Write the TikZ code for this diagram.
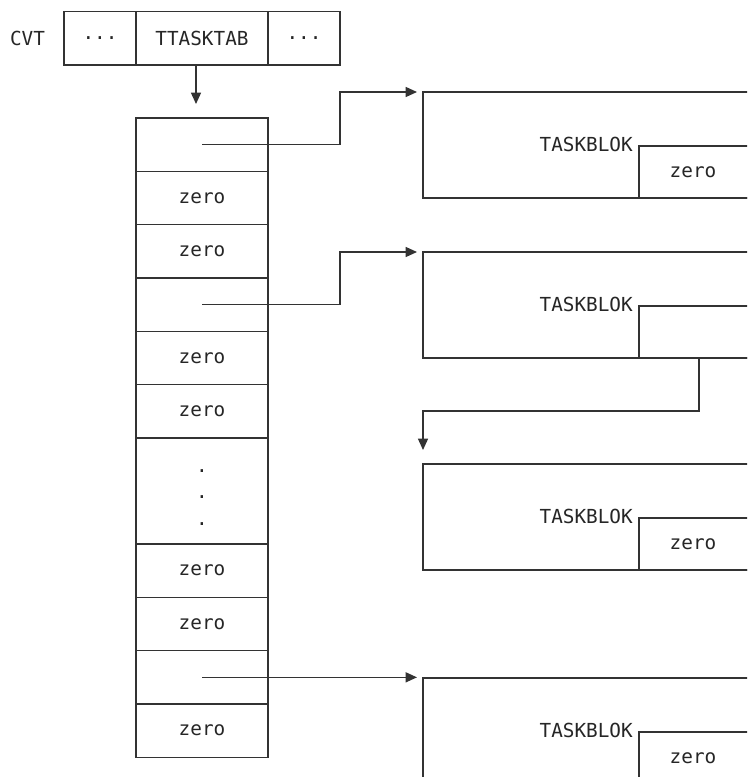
\documentclass[tikz,border=0pt]{standalone}
\usepackage{fontspec}
\setmonofont{DejaVu Sans Mono}
\usetikzlibrary{arrows.meta}

\begin{document}
\begin{tikzpicture}[x=0.75pt, y=-0.75pt,
        lbl/.style={font=\ttfamily\fontsize{14.5}{20}\selectfont, text=black!85, inner sep=0pt},
        cell/.style={lbl, draw=black!80, line width=1pt, outer sep=0pt, minimum height=40pt},
        slot/.style={cell, minimum width=99pt},
        blk/.style={cell, anchor=north west, minimum width=300pt, minimum height=79.5pt},
        fld/.style={cell, anchor=south west, minimum width=120pt, minimum height=39pt},
        ptr/.style={draw=black!80, line width=1pt, -{Triangle[length=8.5pt,width=7.5pt]}}
    ]
            % page
            \useasboundingbox (0,0) rectangle (747,777);
            \clip (0,0) rectangle (747,777);

            % CVT row
            \node[lbl] (cvt) at (27.5,38.5) {CVT};
            \node[cell, minimum width=54pt] (c1) at (100,38.5) {...};
            \node[cell, minimum width=99pt] (tt) at (202,38.5) {TTASKTAB};
            \node[cell, minimum width=54pt] (c3) at (304,38.5) {...};

            % TTASKTAB entries
            \foreach \n/\y/\txt in {1/144.67/{}, 2/198/zero, 3/251.33/zero,
                    4/304.67/{}, 5/358/zero, 6/411.33/zero, 8/570.67/zero,
                    9/624/zero, 10/677.33/{}, 11/730.67/zero}
                {
                    \node[slot] (e\n) at (202,\y) {\txt};
                }
            \node[slot, minimum height=80pt] (e7) at (202,490.67) {};
            \node[lbl, align=center] (dots) at ([yshift=-5pt]e7.center) {.\\.\\.};

            \draw[ptr] ([xshift=-4.5pt]tt.south) -- ([xshift=-4.5pt,yshift=10.5pt]e1.north);

            % task blocks
            \foreach \n/\y in {1/92, 2/252, 3/464, 4/678}
                {
                    \node[blk] (tb\n) at (423,\y) {};
                    \node[fld] (tf\n) at ([xshift=162pt]tb\n.south west) {};
                    \node[lbl, anchor=east] (tk\n) at ([xshift=-4.5pt,yshift=1pt]tf\n.north west) {TASKBLOK};
                }
            \foreach \n in {1, 3, 4}
                {
                    \node[lbl] (z\n) at ([xshift=40.5pt]tf\n.west) {zero};
                }

            % pointers
            \draw[ptr, shorten >=4.5pt] (e1.center) -- ++(138,0) |- (tb1.north west);
            \draw[ptr, shorten >=4.5pt] (e4.center) -- ++(138,0) |- (tb2.north west);
            \draw[ptr] ([xshift=45pt]tf2.south west) -- ++(0,53) -| ([yshift=10.5pt]tb3.north west);
            \draw[ptr, shorten >=4.5pt] (e10.center) -- (e10.center -| tb4.north west);

        \end{tikzpicture}
\end{document}
